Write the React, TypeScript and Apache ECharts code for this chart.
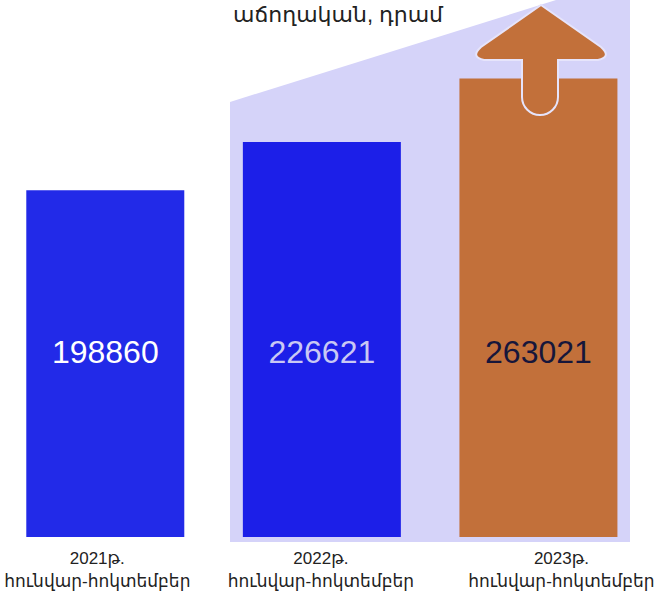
import React, { useEffect, useRef } from "react";
import * as echarts from "echarts";

const titleText = "աճողական, դրամ";
const years = ["2021թ.", "2022թ.", "2023թ."];
const period = "հունվար-հոկտեմբեր";
const values = [198860, 226621, 263021];
const barColors = ["#222ae8", "#1c1fe8", "#c2703a"];
const labelColors = ["#ffffff", "#c9c8f4", "#16163a"];

const arrowPath =
  "M541,5 L601,47 Q612,57 598,60 L558,60 L558,97 A18,18 0 0 1 522,97 L522,60 L484,60 Q470,57 481,47 Z";

let registered = false;
function ensureShape() {
  if (registered) return;
  echarts.graphic.registerShape("logo", echarts.graphic.extendPath(arrowPath, {}) as any);
  registered = true;
}

const SHIFT = 3;

export default function App() {
  const ref = useRef<HTMLDivElement>(null);
  useEffect(() => {
    if (!ref.current) return;
    ensureShape();
    const chart = echarts.init(ref.current, undefined, { renderer: "svg" });
    const font = "'Liberation Sans', Arial, 'DejaVu Sans', sans-serif";
    chart.setOption({
      animation: false,
      backgroundColor: "#ffffff",
      title: {
        text: titleText,
        left: 333 + SHIFT,
        textAlign: "center",
        top: -2,
        textStyle: { fontSize: 22, fontWeight: "normal", color: "#222", fontFamily: font },
      },
      grid: { left: 0, right: 0, top: 14, bottom: 54 },
      xAxis: {
        type: "category",
        data: years,
        axisLine: { show: false },
        axisTick: { show: false },
        axisLabel: {
          margin: 10,
          interval: 0,
          formatter: (v: string, i: number) => `{l${i}|${v}}\n{l${i}|${period}}`,
          rich: {
            l0: { fontSize: 17, lineHeight: 23, color: "#222", fontFamily: font, padding: [0, 16, 0, 0] },
            l1: { fontSize: 17, lineHeight: 23, color: "#222", fontFamily: font, padding: [0, 2, 0, 0] },
            l2: { fontSize: 17, lineHeight: 23, color: "#222", fontFamily: font, padding: [0, 0, 0, 46] },
          },
        },
      },
      yAxis: { type: "value", min: 0, max: 300000, show: false, splitLine: { show: false } },
      graphic: [
        {
          type: "polygon",
          z: -10,
          silent: true,
          shape: {
            points: [
              [230 + SHIFT, 102],
              [556 + SHIFT, 0],
              [630 + SHIFT, 0],
              [630 + SHIFT, 542],
              [230 + SHIFT, 542],
            ],
          },
          style: { fill: "#d5d3f9" },
        },
        {
          type: "logo",
          z: 100,
          x: SHIFT,
          y: 0,
          scaleX: 1,
          scaleY: 1,
          style: { fill: "#c2703a", stroke: "#e6e4fb", lineWidth: 2 },
        },
      ],
      series: [
        {
          type: "bar",
          barWidth: 158,
          z: 5,
          data: values.map((v, i) => ({
            value: v,
            itemStyle: { color: barColors[i] },
            label: { color: labelColors[i] },
          })),
          label: {
            show: true,
            position: "insideBottom",
            distance: 169,
            fontSize: 32,
            fontFamily: font,
          },
        },
      ],
    });
    return () => chart.dispose();
  }, []);
  return (
    <div style={{ position: "absolute", left: 0, top: 0, width: 656, height: 591, overflow: "hidden", background: "#fff" }}>
      <div ref={ref} style={{ width: 656 + SHIFT, height: 591, position: "absolute", left: -SHIFT, top: 0 }} />
    </div>
  );
}
